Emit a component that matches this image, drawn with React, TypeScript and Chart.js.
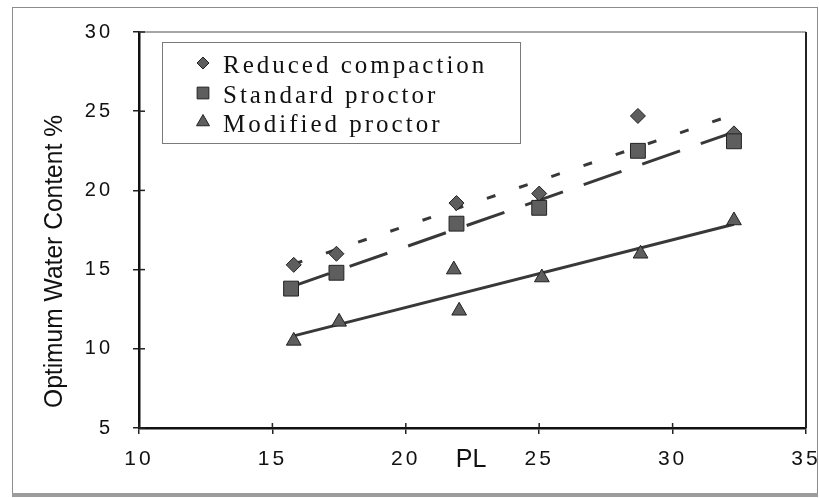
import React, { useEffect, useRef } from 'react';
import { Chart, registerables } from 'chart.js';

Chart.register(...registerables);

// ---- data ----
const seriesLabels = ['Reduced compaction', 'Standard proctor', 'Modified proctor'];
const plReduced = [15.8, 17.4, 21.9, 25.0, 28.7, 32.3];
const owcReduced = [15.3, 16.0, 19.2, 19.8, 24.7, 23.6];
const plStandard = [15.7, 17.4, 21.9, 25.0, 28.7, 32.3];
const owcStandard = [13.8, 14.8, 17.9, 18.9, 22.5, 23.1];
const plModified = [15.8, 17.5, 21.8, 22.0, 25.1, 28.8, 32.3];
const owcModified = [10.5, 11.7, 15.0, 12.4, 14.5, 16.0, 18.1];

const xTickRange = [10, 35];
const yTickRange = [5, 30];
const tickStep = 5;
const xTitle = 'PL';
const yTitle = 'Optimum Water Content %';

const W = 819;
const H = 498;

function points(xs: number[], ys: number[]) {
  return xs.map((x, i) => ({ x, y: ys[i] }));
}

// least-squares linear trend over the series' own x-range
function trend(xs: number[], ys: number[]) {
  const n = xs.length;
  const mx = xs.reduce((a, b) => a + b, 0) / n;
  const my = ys.reduce((a, b) => a + b, 0) / n;
  let sxy = 0;
  let sxx = 0;
  for (let i = 0; i < n; i++) {
    sxy += (xs[i] - mx) * (ys[i] - my);
    sxx += (xs[i] - mx) * (xs[i] - mx);
  }
  const b = sxy / sxx;
  const a = my - b * mx;
  const x0 = Math.min(...xs);
  const x1 = Math.max(...xs);
  return [
    { x: x0, y: a + b * x0 },
    { x: x1, y: a + b * x1 },
  ];
}

function drawMarker(ctx: CanvasRenderingContext2D, style: string, x: number, y: number, r: number) {
  ctx.beginPath();
  if (style === 'rectRot') {
    ctx.moveTo(x, y - r);
    ctx.lineTo(x + r, y);
    ctx.lineTo(x, y + r);
    ctx.lineTo(x - r, y);
    ctx.closePath();
  } else if (style === 'rect') {
    const s = r * Math.SQRT1_2;
    ctx.rect(x - s, y - s, 2 * s, 2 * s);
  } else {
    for (let k = 0; k < 3; k++) {
      const ang = (k * 2 * Math.PI) / 3;
      const px = x + Math.sin(ang) * r;
      const py = y - Math.cos(ang) * r;
      if (k === 0) ctx.moveTo(px, py);
      else ctx.lineTo(px, py);
    }
    ctx.closePath();
  }
  ctx.fill();
  ctx.stroke();
}

const markerFill = '#5e5e5e';
const markerEdge = '#222222';
const lineColor = '#383838';
const textColor = '#111111';

export default function App() {
  const ref = useRef<HTMLCanvasElement>(null);

  useEffect(() => {
    const canvas = ref.current;
    if (!canvas) return;

    const decor = {
      id: 'decor',
      beforeUpdate(chart: any) {
        chart.ctx.letterSpacing = '3px';
      },
      beforeDraw(chart: any) {
        const ctx = chart.ctx as CanvasRenderingContext2D;
        ctx.save();
        ctx.letterSpacing = '0px';
        ctx.fillStyle = '#ffffff';
        ctx.fillRect(0, 0, W, H);
        // outer frame
        ctx.strokeStyle = '#8c8c8c';
        ctx.lineWidth = 1;
        ctx.strokeRect(12.5, 7.5, 805, 487);
        ctx.strokeStyle = '#9c9c9c';
        ctx.lineWidth = 4;
        ctx.beginPath();
        ctx.moveTo(12, 495);
        ctx.lineTo(818, 495);
        ctx.stroke();
        ctx.restore();
        ctx.letterSpacing = '3px';
      },
      afterDraw(chart: any) {
        const ctx = chart.ctx as CanvasRenderingContext2D;
        const { left, right, top, bottom } = chart.chartArea;
        ctx.save();
        // plot box top and right edges
        ctx.strokeStyle = '#8a8a8a';
        ctx.lineWidth = 1.5;
        ctx.beginPath();
        ctx.moveTo(left, top);
        ctx.lineTo(right, top);
        ctx.stroke();
        ctx.strokeStyle = '#222';
        ctx.lineWidth = 2;
        ctx.beginPath();
        ctx.moveTo(right, top);
        ctx.lineTo(right, bottom);
        ctx.stroke();
        // inner halves of the crossing tick marks
        ctx.strokeStyle = '#222';
        ctx.lineWidth = 1.5;
        const xs = chart.scales.x;
        xs.ticks.forEach((t: any) => {
          const px = xs.getPixelForValue(t.value);
          ctx.beginPath();
          ctx.moveTo(px, bottom);
          ctx.lineTo(px, bottom - 5);
          ctx.stroke();
        });
        const ys = chart.scales.y;
        ys.ticks.forEach((t: any) => {
          const py = ys.getPixelForValue(t.value);
          ctx.beginPath();
          ctx.moveTo(left, py);
          ctx.lineTo(left + 6, py);
          ctx.stroke();
        });

        // axis titles
        ctx.letterSpacing = '0px';
        ctx.fillStyle = textColor;
        ctx.textBaseline = 'alphabetic';
        ctx.textAlign = 'center';
        ctx.font = '25px "Liberation Sans", Arial, sans-serif';
        ctx.fillText(xTitle, 471, 467);
        ctx.save();
        ctx.translate(62, 261.5);
        ctx.rotate(-Math.PI / 2);
        ctx.font = '26px "Liberation Sans", Arial, sans-serif';
        ctx.fillText(yTitle, 0, 0, 293);
        ctx.restore();

        // legend box
        ctx.strokeStyle = '#7a7a7a';
        ctx.lineWidth = 1;
        ctx.strokeRect(162.5, 42.5, 358, 101);
        const rows = [63, 93, 122];
        const baselines = [73, 102.5, 132];
        const legendR = [6, 8.3, 7.5];
        ctx.font = '25px "Liberation Serif", "Times New Roman", serif';
        ctx.letterSpacing = '3px';
        ctx.textAlign = 'left';
        for (let i = 0; i < 3; i++) {
          const ds = chart.data.datasets[i];
          ctx.fillStyle = ds.backgroundColor;
          ctx.strokeStyle = ds.borderColor;
          ctx.lineWidth = 1;
          drawMarker(ctx, ds.pointStyle, 203, rows[i], legendR[i]);
          ctx.fillStyle = textColor;
          ctx.fillText(ds.label, 223, baselines[i]);
        }
        ctx.restore();
      },
    };

    const scatterBase = {
      backgroundColor: markerFill,
      borderColor: markerEdge,
      borderWidth: 1,
      showLine: false,
    };
    const lineBase = {
      showLine: true,
      pointRadius: 0,
      borderColor: lineColor,
      backgroundColor: lineColor,
      borderWidth: 3,
      fill: false,
      order: 10,
    };

    const chart = new Chart(canvas, {
      type: 'scatter',
      data: {
        datasets: [
          { ...scatterBase, label: seriesLabels[0], data: points(plReduced, owcReduced), pointStyle: 'rectRot', pointRadius: 7.5, order: 3 },
          { ...scatterBase, label: seriesLabels[1], data: points(plStandard, owcStandard), pointStyle: 'rect', pointRadius: 10.5, order: 2 },
          { ...scatterBase, label: seriesLabels[2], data: points(plModified, owcModified), pointStyle: 'triangle', pointRadius: 8.5, order: 1 },
          { ...lineBase, label: 'trend-reduced', data: trend(plReduced, owcReduced), borderDash: [9, 25] },
          { ...lineBase, label: 'trend-standard', data: trend(plStandard, owcStandard), borderDash: [40, 22] },
          { ...lineBase, label: 'trend-modified', data: trend(plModified, owcModified) },
        ],
      } as any,
      options: {
        responsive: false,
        animation: false,
        devicePixelRatio: 1,
        layout: { padding: { top: 32, right: 13, left: 0, bottom: 0 } },
        plugins: { legend: { display: false }, tooltip: { enabled: false } },
        scales: {
          x: {
            type: 'linear',
            min: xTickRange[0],
            max: xTickRange[1],
            afterFit: (scale: any) => {
              scale.height = 70;
              scale.paddingLeft = 0;
              scale.paddingRight = 0;
            },
            ticks: {
              stepSize: tickStep,
              padding: 13,
              color: textColor,
              maxRotation: 0,
              autoSkip: false,
              font: { family: '"Liberation Sans", Arial, sans-serif', size: 21 },
            },
            grid: { drawOnChartArea: false, drawTicks: true, tickLength: 6, color: '#222', lineWidth: 1.5 },
            border: { display: true, color: '#111', width: 2.5 },
          },
          y: {
            type: 'linear',
            min: yTickRange[0],
            max: yTickRange[1],
            afterFit: (scale: any) => {
              scale.width = 139;
              scale.paddingTop = 0;
              scale.paddingBottom = 0;
            },
            ticks: {
              stepSize: tickStep,
              padding: 20,
              color: textColor,
              font: { family: '"Liberation Sans", Arial, sans-serif', size: 20 },
            },
            grid: { drawOnChartArea: false, drawTicks: true, tickLength: 6, color: '#222', lineWidth: 1.5 },
            border: { display: true, color: '#111', width: 2.5 },
          },
        },
      } as any,
      plugins: [decor],
    });

    return () => chart.destroy();
  }, []);

  return (
    <div style={{ position: 'absolute', left: 0, top: 0, width: W, height: H, background: '#fff' }}>
      <canvas ref={ref} width={W} height={H} style={{ display: 'block', width: W, height: H }} />
    </div>
  );
}
